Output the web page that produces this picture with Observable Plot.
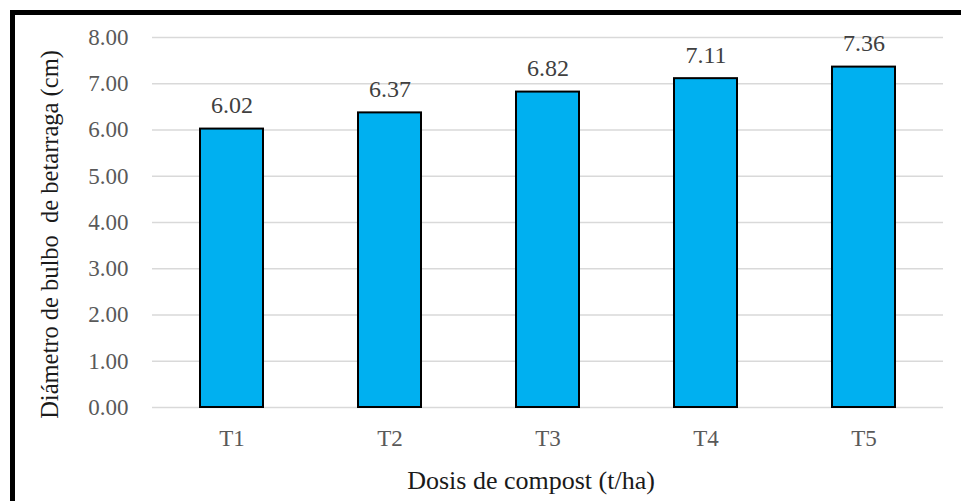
<!DOCTYPE html>
<html>
<head>
<meta charset="utf-8">
<script src="https://cdn.jsdelivr.net/npm/d3@7"></script>
<script src="https://cdn.jsdelivr.net/npm/@observablehq/plot@0.6"></script>
<style>
  html, body { margin: 0; padding: 0; background: #fff; overflow: hidden; }
  #wrap { position: relative; width: 961px; height: 501px; overflow: hidden; }
  #frame { position: absolute; left: 10px; top: 10px; width: 980px; height: 520px;
           border-top: 5px solid #000; border-left: 5px solid #000; box-sizing: border-box; }
  #chart { position: absolute; left: 0; top: 0; }
</style>
</head>
<body>
<div id="wrap"><div id="frame"></div><div id="chart"></div></div>
<script>
const categories = ["T1", "T2", "T3", "T4", "T5"];
const values = [6.02, 6.37, 6.82, 7.11, 7.36];
const yTicks = [0, 1, 2, 3, 4, 5, 6, 7, 8];
const xTitle = "Dosis de compost (t/ha)";
const yTitle = "Diámetro de bulbo\u00a0 de betarraga (cm)";

const data = categories.map((c, i) => ({cat: c, val: values[i]}));
const font = "Liberation Serif";

const chart = Plot.plot({
  width: 961,
  height: 501,
  marginLeft: 152,
  marginRight: 18,
  marginTop: 37,
  marginBottom: 94,
  style: {fontFamily: font, background: "transparent", overflow: "visible"},
  x: {domain: categories, paddingInner: 0.6, paddingOuter: 0.3, label: null},
  y: {domain: [0, 8], label: null},
  marks: [
    Plot.ruleY(yTicks, {stroke: "#d9d9d9", strokeWidth: 1.5}),
    Plot.barY(data, {x: "cat", y: "val", fill: "#00b0f0", stroke: "#000", strokeWidth: 2}),
    Plot.text(data, {x: "cat", y: "val", text: d => d.val.toFixed(2), dy: -16, lineAnchor: "bottom",
      fill: "#404040", fontSize: 24, fontFamily: font}),
    Plot.axisY({ticks: yTicks, tickFormat: d3.format(".2f"), tickSize: 0, tickPadding: 24,
      fontSize: 23, color: "#595959", label: null, fontFamily: font}),
    Plot.axisX({tickSize: 0, tickPadding: 22, fontSize: 23, color: "#595959", label: null, fontFamily: font}),
    Plot.text([xTitle], {frameAnchor: "bottom", text: d => d, dx: -17, dy: 73, lineAnchor: "middle",
      textAnchor: "middle", fontSize: 26, fill: "#1a1a1a", fontFamily: font}),
    Plot.text([yTitle], {frameAnchor: "left", text: d => d, rotate: -90, dx: -102, dy: 12, lineAnchor: "middle",
      textAnchor: "middle", fontSize: 24.5, fill: "#1a1a1a", fontFamily: font})
  ]
});

document.getElementById("chart").appendChild(chart);
</script>
</body>
</html>
